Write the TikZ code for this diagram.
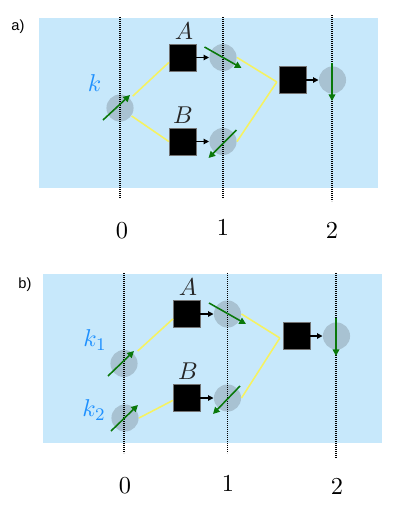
\documentclass[tikz,border=0pt]{standalone}
\usepackage{fontspec}
\newfontfamily\panelfont{Liberation Sans}
\usetikzlibrary{calc,arrows.meta}
\definecolor{sheet}{RGB}{199,232,251}
\definecolor{blob}{RGB}{168,194,210}
\definecolor{beam}{RGB}{246,242,96}
\definecolor{spingreen}{RGB}{10,120,10}
\definecolor{kblue}{RGB}{30,144,255}
\tikzset{
	gate/.style={draw=black!55, fill=black, minimum size=12pt, inner sep=0pt, line width=0.3pt},
	site/.style={circle, fill=blob, minimum size=12.2pt, inner sep=0pt},
	link/.style={draw=beam, line width=0.7pt},
	spin/.style={draw=spingreen, line width=0.7pt, -{Triangle[length=3pt,width=3pt]}},
	flow/.style={line width=0.5pt, -{Triangle[length=2.4pt,width=2.4pt]}},
	tick/.style={line width=0.55pt, dash pattern=on 0.45pt off 0.45pt},
	lbl/.style={font=\fontsize{10.8pt}{13pt}\selectfont},
	panel/.style={font=\panelfont\fontsize{6.6pt}{8pt}\selectfont}
}

\begin{document}
\begin{tikzpicture}[x=0.45pt, y=-0.45pt]
		\useasboundingbox (0, 0) rectangle (415, 511);
		%%%%% PANEL A %%%%%
		\fill[sheet] (39, 18) rectangle (378, 188);
		\node[panel] (pa) at (18, 27) {a)};
		
		\node[site] (ska) at (120, 108) {};
		\node[gate] (gaa) at (182.5, 57.5) {};
		\node[gate] (gba) at (182.5, 141.5) {};
		\node[site] (saa) at (223, 57.5) {};
		\node[site] (sba) at (223, 141.5) {};
		\node[gate] (gca) at (292.5, 80) {};
		\node[site] (sca) at (332.5, 80) {};
		\coordinate (ma) at ($(gca.west)+(-2, 2)$);
		
		\draw[tick] (120, 17) -- (120, 198);
		\draw[tick] (223, 17) -- (223, 198);
		\draw[tick] (332, 15) -- (332, 201);
		
		\draw[link, shorten <=1.5pt] (ska) -- (gaa.200);
		\draw[link] (ska) -- (gba.west);
		\draw[link] (saa.east) -- (ma);
		\draw[link] (sba.east) -- (ma);
		
		\draw[flow] (gaa) -- (saa);
		\draw[flow] (gba) -- (sba);
		\draw[flow] (gca) -- (sca);
		
		\draw[spin] ($(ska)+(-17, 12)$) -- ($(ska)+(10, -13)$);
		\draw[spin] ($(saa)+(-18.5, -10.5)$) -- ($(saa)+(18.5, 10.5)$);
		\draw[spin] ($(sba)+(13.5, -11.5)$) -- ($(sba)+(-14.5, 16.5)$);
		\draw[spin] ($(sca)+(-0.5, -17)$) -- ($(sca)+(-0.5, 21)$);
		
		\node[lbl, text=kblue] (lk) at (94.5, 83.5) {$k$};
		\node[lbl, text=black!85] (la) at (184, 31) {$A$};
		\node[lbl, text=black!85] (lb) at (183, 115) {$B$};
		\node[lbl] (t0a) at (122, 231) {$0$};
		\node[lbl] (t1a) at (223, 228) {$1$};
		\node[lbl] (t2a) at (332, 231) {$2$};
		
		%%%%% PANEL B %%%%%
		\fill[sheet] (43, 274) rectangle (382, 443);
		\node[panel] (pb) at (25, 285) {b)};
		
		\node[site] (skb) at (124, 363.5) {};
		\node[site] (skc) at (125, 418) {};
		\node[gate] (gab) at (186.5, 314) {};
		\node[gate] (gbb) at (186.5, 398) {};
		\node[site] (sab) at (227.5, 314) {};
		\node[site] (sbb) at (227.5, 398) {};
		\node[gate] (gcb) at (296.5, 336) {};
		\node[site] (scb) at (336.5, 336) {};
		\coordinate (mb) at ($(gcb.west)+(-3, 2)$);
		
		\draw[tick] (124, 273) -- (124, 453);
		\draw[tick] (227.5, 273) -- (227.5, 453);
		\draw[tick] (336, 273) -- (336, 458);
		
		\draw[link, shorten <=2pt] (skb) -- (gab.200);
		\draw[link] (skc.east) -- (gbb.190);
		\draw[link] (sab.east) -- (mb);
		\draw[link] (sbb.east) -- (mb);
		
		\draw[flow] (gab) -- (sab);
		\draw[flow] (gbb) -- (sbb);
		\draw[flow] (gcb) -- (scb);
		
		\draw[spin] ($(skb)+(-16, 12.5)$) -- ($(skb)+(10, -12.5)$);
		\draw[spin] ($(skc)+(-14, 13)$) -- ($(skc)+(13, -13)$);
		\draw[spin] ($(sab)+(-18.5, -11)$) -- ($(sab)+(18.5, 10)$);
		\draw[spin] ($(sbb)+(12.5, -12)$) -- ($(sbb)+(-14.5, 16)$);
		\draw[spin] ($(scb)+(-0.5, -18)$) -- ($(scb)+(-0.5, 20)$);
		
		\node[lbl, text=kblue] (lk1) at (95, 340) {$k_1$};
		\node[lbl, text=kblue] (lk2) at (94, 410) {$k_2$};
		\node[lbl, text=black!85] (lab) at (188, 287) {$A$};
		\node[lbl, text=black!85] (lbb) at (188, 371) {$B$};
		\node[lbl] (t0b) at (125, 486) {$0$};
		\node[lbl] (t1b) at (228, 484) {$1$};
		\node[lbl] (t2b) at (337, 487) {$2$};
	\end{tikzpicture}
\end{document}
